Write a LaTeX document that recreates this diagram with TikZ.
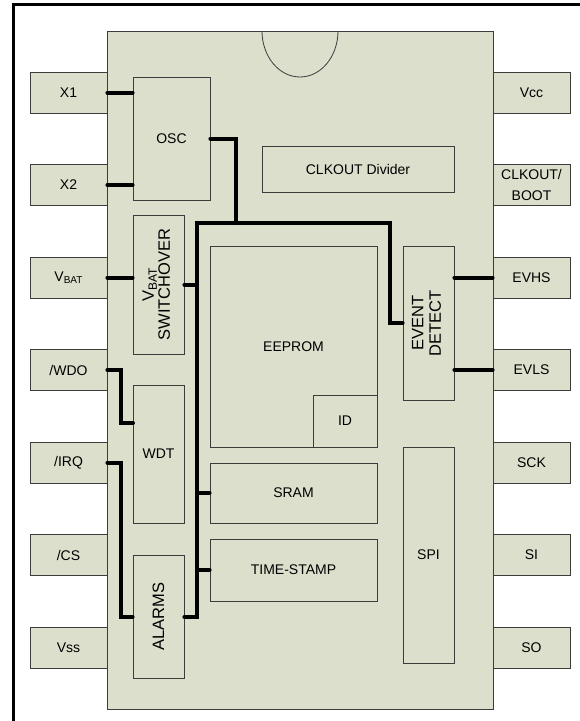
\documentclass[tikz,border=0pt]{standalone}
\usepackage{fontspec}
\setmainfont{Liberation Sans}
\definecolor{chipfill}{RGB}{220,223,204}
\definecolor{boxline}{RGB}{60,60,60}
\newcommand\pinvbat{V\raisebox{-2.5pt}{\fontsize{10}{10}\selectfont BAT}}
\newcommand\rotvbat{V\raisebox{-3pt}{\fontsize{12}{12}\selectfont BAT}}
\tikzset{
 blk/.style={draw=boxline, fill=chipfill, line width=0.8pt, inner sep=0pt, font=\fontsize{14}{21}\selectfont, align=center},
 pinbox/.style={blk, minimum width=77pt, minimum height=41pt},
 vblk/.style={blk, font=\fontsize{16.5}{17}\selectfont},
 wire/.style={line width=4pt, line cap=round, line join=miter},
}
\begin{document}
\begin{tikzpicture}[x=1pt,y=-1pt]
\useasboundingbox (0,0) rectangle (580,721);
\draw[line width=3pt] (13,721) -- (13,4) -- (580,4);
% left pins
\node[pinbox] (x1)  at (68.5,92.5)  {X1};
\node[pinbox] (x2)  at (68.5,185)   {X2};
\node[pinbox] (vbat) at (68.5,277.5) {\pinvbat};
\node[pinbox] (wdo) at (68.5,370)   {/WDO};
\node[pinbox] (irq) at (68.5,462.5) {/IRQ};
\node[pinbox] (cs)  at (68.5,555)   {/CS};
\node[pinbox] (vss) at (68.5,647.5) {Vss};
% right pins
\node[pinbox] (vcc)  at (531.5,92.5)  {Vcc};
\node[pinbox] (clko) at (531.5,185)   {CLKOUT/\\BOOT};
\node[pinbox] (evhs) at (531.5,277.5) {EVHS};
\node[pinbox] (evls) at (531.5,370)   {EVLS};
\node[pinbox] (sck)  at (531.5,462.5) {SCK};
\node[pinbox] (si)   at (531.5,555)   {SI};
\node[pinbox] (so)   at (531.5,647.5) {SO};
% chip body
\node[blk, minimum width=386pt, minimum height=678pt] (chip) at (300,370) {};
\draw[boxline, line width=0.8pt] (262,31) arc[start angle=180, end angle=360, x radius=38pt, y radius=46pt];
% blocks
\node[blk, minimum width=77pt, minimum height=123pt] (osc) at (171.5,138.5) {OSC};
\node[blk, minimum width=192pt, minimum height=46pt] (clkdiv) at (358,169) {CLKOUT Divider};
\node[vblk, minimum width=51pt, minimum height=139pt] (vsw) at (158.5,284.5)
  {\rotatebox{90}{\fontsize{16.5}{15.5}\selectfont\begin{tabular}{@{}c@{}}\rotvbat\\SWITCHOVER\end{tabular}}};
\node[blk, minimum width=167pt, minimum height=201pt] (eeprom) at (293.5,346.5) {EEPROM};
\node[blk, minimum width=64pt, minimum height=52pt] (id) at (345,421) {ID};
\node[vblk, minimum width=51pt, minimum height=154pt] (evd) at (428.5,323)
  {\rotatebox{90}{\fontsize{16.5}{17.5}\selectfont\begin{tabular}{@{}c@{}}EVENT\\DETECT\end{tabular}}};
\node[blk, minimum width=51pt, minimum height=138pt] (wdt) at (158.5,454) {WDT};
\node[vblk, minimum width=51pt, minimum height=123pt] (alarms) at (158.5,616.5)
  {\rotatebox{90}{ALARMS}};
\node[blk, minimum width=167pt, minimum height=60pt] (sram) at (293.5,493) {SRAM};
\node[blk, minimum width=167pt, minimum height=62pt] (tstamp) at (293.5,570) {TIME-STAMP};
\node[blk, minimum width=51pt, minimum height=216pt] (spi) at (428.5,555) {SPI};
% bus coordinates
\coordinate (bustop) at (197,223);
\coordinate (busbot) at (197,617);
\coordinate (oscturn) at (236,138.5);
\coordinate (evturn) at (390,223);
\coordinate (wdoturn) at (121,370);
\coordinate (wdoin) at (133,423);
\coordinate (irqturn) at (121,462.5);
% wires
\draw[wire] (x1.east) -- (x1.east -| osc.west);
\draw[wire] (x2.east) -- (x2.east -| osc.west);
\draw[wire] (osc.east) -- (oscturn) -- (oscturn |- bustop);
\draw[wire] (alarms.east |- busbot) -- (busbot) -- (bustop) -- (evturn) -- (evturn |- evd.west) -- (evd.west);
\draw[wire] (vbat.east) -- (vbat.east -| vsw.west);
\draw[wire] (vsw.east) -- (vsw.east -| bustop);
\draw[wire] (sram.west -| bustop) -- (sram.west);
\draw[wire] (tstamp.west -| bustop) -- (tstamp.west);
\draw[wire] (wdo.east) -- (wdoturn) -- (wdoturn |- wdoin) -- (wdoin);
\draw[wire] (irq.east) -- (irqturn) -- (irqturn |- busbot) -- (alarms.west |- busbot);
\draw[wire] (evd.east |- evhs.west) -- (evhs.west);
\draw[wire] (evd.east |- evls.west) -- (evls.west);
\end{tikzpicture}
\end{document}
